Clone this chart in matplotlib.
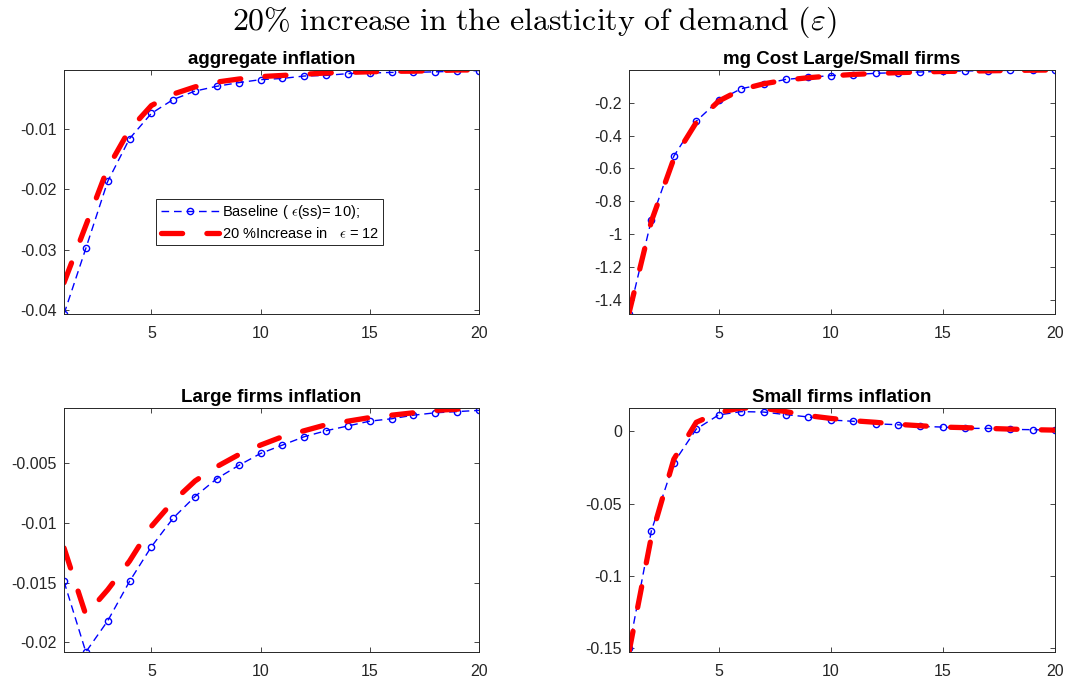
import matplotlib
matplotlib.use("Agg")
import matplotlib.pyplot as plt
from matplotlib.ticker import FuncFormatter

# --- datos ---
t = list(range(1, 21))

agg_base = [-0.0407, -0.0298, -0.0187, -0.0116, -0.0074, -0.0051, -0.0037, -0.0029,
            -0.0023, -0.0018, -0.0016, -0.0012, -0.0011, -0.0008, -0.0007, -0.0006,
            -0.0006, -0.0005, -0.0004, -0.0003]
agg_eps = [-0.0355, -0.0260, -0.0165, -0.0101, -0.0061, -0.0042, -0.0030, -0.0022,
           -0.0017, -0.0013, -0.0011, -0.0009, -0.0007, -0.0006, -0.0005, -0.0004,
           -0.0004, -0.0003, -0.0002, -0.0002]

mc_base = [-1.485, -0.911, -0.525, -0.312, -0.186, -0.115, -0.086, -0.058, -0.046,
           -0.035, -0.029, -0.021, -0.017, -0.013, -0.009, -0.007, -0.005, -0.003,
           -0.001, -0.001]
mc_eps = [-1.480, -0.920, -0.540, -0.320, -0.190, -0.120, -0.085, -0.062, -0.048,
          -0.037, -0.028, -0.022, -0.017, -0.013, -0.010, -0.008, -0.006, -0.004,
          -0.002, -0.001]

large_base = [-0.0149, -0.0208, -0.0182, -0.0149, -0.0120, -0.0096, -0.0078, -0.0063,
              -0.0052, -0.0042, -0.0035, -0.0028, -0.0023, -0.0019, -0.0015, -0.0013,
              -0.0010, -0.0008, -0.0007, -0.0006]
large_eps = [-0.0121, -0.0177, -0.0156, -0.0132, -0.0103, -0.0082, -0.0065, -0.0053,
             -0.0043, -0.0035, -0.0028, -0.0023, -0.0018, -0.0015, -0.0012, -0.0010,
             -0.0008, -0.0006, -0.0005, -0.0004]

small_base = [-0.150, -0.0686, -0.0216, 0.0016, 0.0114, 0.0137, 0.0134, 0.0116, 0.0100,
              0.0079, 0.0070, 0.0053, 0.0046, 0.0035, 0.0030, 0.0021, 0.0021, 0.0014,
              0.0012, 0.0009]
small_eps = [-0.1526, -0.0726, -0.0192, 0.0063, 0.0132, 0.0162, 0.0160, 0.0137, 0.0109,
             0.0090, 0.0074, 0.0063, 0.0049, 0.0039, 0.0030, 0.0026, 0.0021, 0.0016,
             0.0012, 0.0009]

titles = ["aggregate inflation", "mg Cost Large/Small firms",
          "Large firms inflation", "Small firms inflation"]
yticks = [[-0.04, -0.03, -0.02, -0.01],
          [-1.4, -1.2, -1.0, -0.8, -0.6, -0.4, -0.2],
          [-0.02, -0.015, -0.01, -0.005],
          [-0.15, -0.1, -0.05, 0]]
xticks = [5, 10, 15, 20]

series = [(agg_base, agg_eps), (mc_base, mc_eps),
          (large_base, large_eps), (small_base, small_eps)]

label_base = r"Baseline ( $\epsilon$(ss)= 10);"
label_eps = r"20 %Increase in   $\epsilon$ = 12"
suptitle = r"$\mathrm{20\%\ increase\ in\ the\ elasticity\ of\ demand\ (}\varepsilon\mathrm{)}$"

# --- estilo ---
plt.rcParams["font.family"] = ["Liberation Sans", "DejaVu Sans"]
plt.rcParams["mathtext.fontset"] = "cm"
plt.rcParams["axes.unicode_minus"] = False
axcol = "#262626"

W, H = 1068, 678
fig = plt.figure(figsize=(W / 100, H / 100), dpi=100)

# posiciones en pixeles (izq, der, arriba, abajo)
boxes = [(64, 479, 70, 314), (629, 1055, 70, 314),
         (64, 479, 408, 652), (629, 1055, 408, 652)]

axes = []
for i, (l, r, tp, bt) in enumerate(boxes):
    ax = fig.add_axes([l / W, 1 - bt / H, (r - l) / W, (bt - tp) / H])
    base, eps = series[i]
    ax.plot(t, base, "--o", color="blue", lw=1.0, ms=4.5, mfc="none", mew=1.0,
            dashes=(5.5, 3.5), label=label_base)
    ax.plot(t, eps, "--", color="red", lw=3.8, dashes=(4.0, 4.6),
            dash_capstyle="round", label=label_eps)
    ax.set_xlim(1, 20)
    ax.set_ylim(min(base + eps), max(base + eps))
    ax.set_xticks(xticks)
    ax.set_yticks(yticks[i])
    ax.yaxis.set_major_formatter(FuncFormatter(lambda v, p: "%g" % v))
    ax.tick_params(direction="in", top=True, right=True, length=3.5, width=0.6,
                   labelsize=11.5, colors=axcol, pad=5)
    ax.tick_params(axis="x", pad=9)
    for s in ax.spines.values():
        s.set_color(axcol)
        s.set_linewidth(0.7)
    ax.set_title(titles[i], fontsize=13.5, fontweight="bold", pad=4)
    axes.append(ax)

leg = axes[0].legend(loc="upper left", bbox_to_anchor=(0.222, 0.471), fontsize=10.5,
                     handlelength=4.0, fancybox=False, framealpha=1,
                     edgecolor=axcol, borderpad=0.3, labelspacing=0.3,
                     handletextpad=0.2, borderaxespad=0)
leg.get_frame().set_linewidth(0.7)

fig.text(0.5, 1 - 22 / H, suptitle, ha="center", va="center", fontsize=23)

fig.savefig("out.png", dpi=100)
